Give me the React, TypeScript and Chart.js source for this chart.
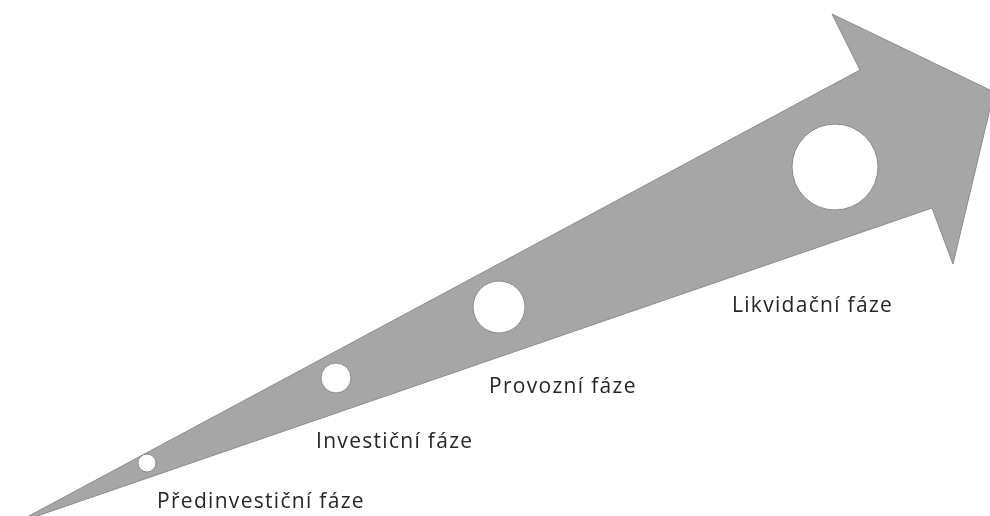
import React, { useEffect, useRef } from "react";
import { Chart, registerables } from "chart.js";

Chart.register(...registerables);

// Arrow outline vertices (diagram coordinates, y downwards)
const arrowX = [14, 860, 832, 994, 953, 932, 14];
const arrowY = [524, 70, 14, 92, 264, 208, 524];

// Phase markers (circles)
const circleX = [147, 336, 499, 835];
const circleY = [463, 378, 307, 167];
const circleR = [9, 15, 26, 43];

// Phase labels
const phaseLabels = ["Předinvestiční fáze", "Investiční fáze", "Provozní fáze", "Likvidační fáze"];
const labelX = [157, 316, 489, 732];
const labelY = [508, 448, 393, 312];

export default function App() {
  const ref = useRef<HTMLCanvasElement>(null);
  useEffect(() => {
    const canvas = ref.current!;
    const labelPlugin = {
      id: "phaseLabels",
      afterDatasetsDraw(chart: any) {
        const ctx = chart.ctx;
        const xs = chart.scales.x;
        const ys = chart.scales.y;
        ctx.save();
        ctx.fillStyle = "#262626";
        ctx.font = "21px 'Open Sans'";
        (ctx as any).letterSpacing = "1.3px";
        ctx.textBaseline = "alphabetic";
        ctx.textAlign = "left";
        phaseLabels.forEach((t, i) => {
          ctx.fillText(t, xs.getPixelForValue(labelX[i]), ys.getPixelForValue(labelY[i]));
        });
        ctx.restore();
      },
    };
    const chart = new Chart(canvas, {
      type: "line",
      data: {
        datasets: [
          {
            type: "scatter",
            data: circleX.map((x, i) => ({ x, y: circleY[i] })),
            pointRadius: circleR,
            pointBackgroundColor: "#ffffff",
            pointBorderColor: "#8a8a8a",
            pointBorderWidth: 1,
            showLine: false,
            order: 0,
          },
          {
            type: "line",
            data: arrowX.map((x, i) => ({ x, y: arrowY[i] })),
            fill: "shape",
            backgroundColor: "#a6a6a6",
            borderColor: "#8c8c8c",
            borderWidth: 1,
            pointRadius: 0,
            tension: 0,
            order: 1,
          },
        ],
      },
      options: {
        animation: false,
        responsive: false,
        events: [],
        layout: { padding: 0, autoPadding: false },
        plugins: { legend: { display: false }, tooltip: { enabled: false } },
        scales: {
          x: { type: "linear", min: 0, max: 990, display: false },
          y: { type: "linear", min: 0, max: 516, reverse: true, display: false },
        },
      },
      plugins: [labelPlugin],
    });
    return () => chart.destroy();
  }, []);
  return (
    <div style={{ position: "absolute", left: 0, top: 0, width: 990, height: 516, background: "#fff" }}>
      <canvas ref={ref} width={990} height={516} />
    </div>
  );
}
